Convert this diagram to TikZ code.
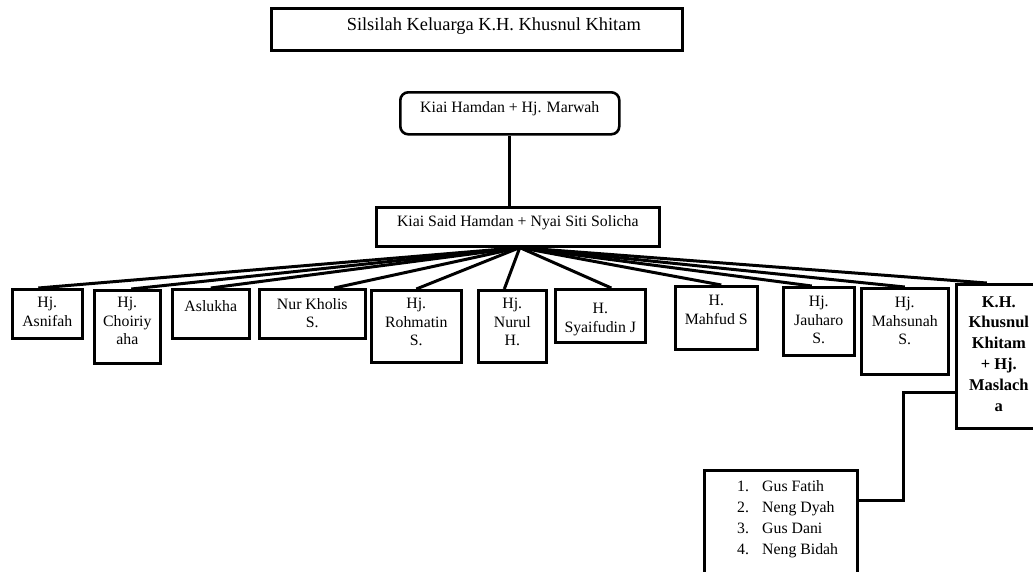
\documentclass[tikz,border=0pt]{standalone}
\usepackage{fontspec}
\setmainfont{Liberation Serif}
\usepackage{tikz}
\usetikzlibrary{positioning}

\newcommand{\bodyfont}{\fontsize{15.8}{18.5}\selectfont}
\newcommand{\titlefont}{\fontsize{18.4}{22}\selectfont}
\newcommand{\boldfont}{\fontsize{16.5}{20.8}\selectfont\bfseries}

\begin{document}
\begin{tikzpicture}[
    x=1pt, y=-1pt,
    box/.style={
        draw,
        line width=2.6pt,
        anchor=north west,
        inner sep=0pt
    },
    toptext/.style={
        anchor=north,
        inner sep=0pt,
        yshift=-9pt,
        align=center,
        font=\bodyfont
    },
    link/.style={line width=3pt}
]
\useasboundingbox (0,0) rectangle (1033,571);

% Title
\node[box, minimum width=411pt, minimum height=42pt,
      label={[toptext, xshift=17pt, yshift=-2pt, font=\titlefont]north:Silsilah Keluarga K.H. Khusnul Khitam}] (title) at (270,7) {};

% Parents
\node[box, rounded corners=8pt, minimum width=219pt, minimum height=42pt,
      label={[toptext, yshift=-1pt]north:Kiai Hamdan + Hj. Marwah}] (hamdan) at (399,91) {};
\node[box, minimum width=283pt, minimum height=39pt,
      label={[toptext]north:Kiai Said Hamdan + Nyai Siti Solicha}] (said) at (375,206) {};
\draw[link] (hamdan.south) -- (hamdan.south |- said.north);

% Children
\node[box, minimum width=70pt, minimum height=49pt, label={[toptext]north:Hj.\\Asnifah}] (c1) at (11,288) {};
\node[box, minimum width=66pt, minimum height=73pt, label={[toptext, yshift=1pt]north:Hj.\\Choiriy\\aha}] (c2) at (93,289) {};
\node[box, minimum width=77pt, minimum height=49pt, label={[toptext, yshift=-3pt]north:Aslukha}] (c3) at (171,288) {};
\node[box, minimum width=106pt, minimum height=49pt, label={[toptext, yshift=-1pt]north:Nur Kholis\\S.}] (c4) at (258,288) {};
\node[box, minimum width=90pt, minimum height=72pt, label={[toptext]north:Hj.\\Rohmatin\\S.}] (c5) at (370,289) {};
\node[box, minimum width=68pt, minimum height=72pt, label={[toptext]north:Hj.\\Nurul\\H.}] (c6) at (477,289) {};
\node[box, minimum width=90pt, minimum height=53pt, label={[toptext, yshift=-6pt]north:H.\\Syaifudin J}] (c7) at (554,288) {};
\node[box, minimum width=82pt, minimum height=63pt, label={[toptext, yshift=-1pt]north:H.\\Mahfud S}] (c8) at (674,285) {};
\node[box, minimum width=71pt, minimum height=68pt, label={[toptext, yshift=-1pt]north:Hj.\\Jauharo\\S.}] (c9) at (782,286) {};
\node[box, minimum width=87pt, minimum height=86pt, label={[toptext, yshift=-1pt]north:Hj.\\Mahsunah\\S.}] (c10) at (860,287) {};
\node[box, minimum width=85pt, minimum height=144pt,
      label={[toptext, yshift=-4pt, font=\boldfont]north:K.H.\\Khusnul\\Khitam\\+ Hj.\\Maslach\\a}] (c11) at (955,283) {};

\coordinate (hub) at ([xshift=2pt]said.south);
\foreach \k/\dx in {c1/-9, c2/4, c3/0, c4/22, c5/0, c6/-8, c7/11, c8/5, c9/-7, c10/0, c11/-12}
    \draw[link] (hub) -- ([xshift=\dx pt]\k.north);

% Grandchildren
\node[box, minimum width=153pt, minimum height=115pt,
      label={[toptext, anchor=north west, align=left, xshift=34pt, yshift=-2pt, font=\fontsize{15.8}{21}\selectfont]north west:
      \makebox[25pt][l]{1.}Gus Fatih\\\makebox[25pt][l]{2.}Neng Dyah\\\makebox[25pt][l]{3.}Gus Dani\\\makebox[25pt][l]{4.}Neng Bidah}] (list) at (703,469) {};
\draw[link] ([yshift=-109pt]c11.north west) -- ++(-52pt,0) |- ([yshift=-31pt]list.north east);

\end{tikzpicture}
\end{document}
